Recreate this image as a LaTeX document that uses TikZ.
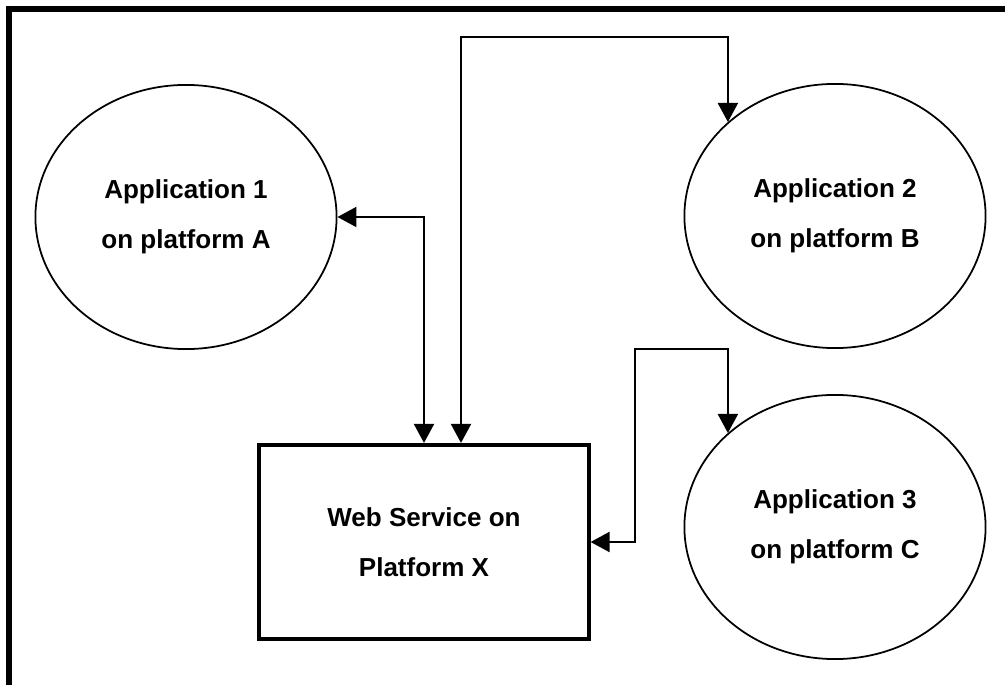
\documentclass[tikz,border=0pt]{standalone}
\usepackage{fontspec}
\setmainfont{Liberation Sans}
\usetikzlibrary{arrows.meta,shapes.geometric}

\begin{document}
\begin{tikzpicture}[x=0.01cm,y=-0.01cm,
        app/.style={draw,ellipse,line width=0.5pt,minimum width=3.01cm,minimum height=2.64cm,
            align=center,font=\fontsize{7.4}{14.2}\selectfont\bfseries},
        svc/.style={draw,rectangle,line width=1.15pt,minimum width=3.29cm,minimum height=1.94cm,
            align=center,font=\fontsize{7.4}{14.2}\selectfont\bfseries},
        link/.style={{Triangle[length=0.19cm,width=0.2cm]}-{Triangle[length=0.19cm,width=0.2cm]},line width=0.6pt}]
        \useasboundingbox (0,0) rectangle (1005,685);
        \draw[line width=0.06cm] (9,685) -- (9,9) -- (1005,9);
        \node[app] (app1) at (186,217) {Application 1\\on platform A};
        \node[app] (app2) at (835,216) {Application 2\\on platform B};
        \node[app] (app3) at (835,527) {Application 3\\on platform C};
        \node[svc] (ws) at (424,542) {Web Service on\\Platform X};
        \coordinate (b2) at (461,37);
        \coordinate (b3) at (635,349);
        \draw[link] (app1.east) -| (ws.north);
        \draw[link] (ws.north -| b2) -- (b2) -| (app2.north west);
        \draw[link] (ws.east) -| (b3) -| (app3.north west);
    \end{tikzpicture}
\end{document}
